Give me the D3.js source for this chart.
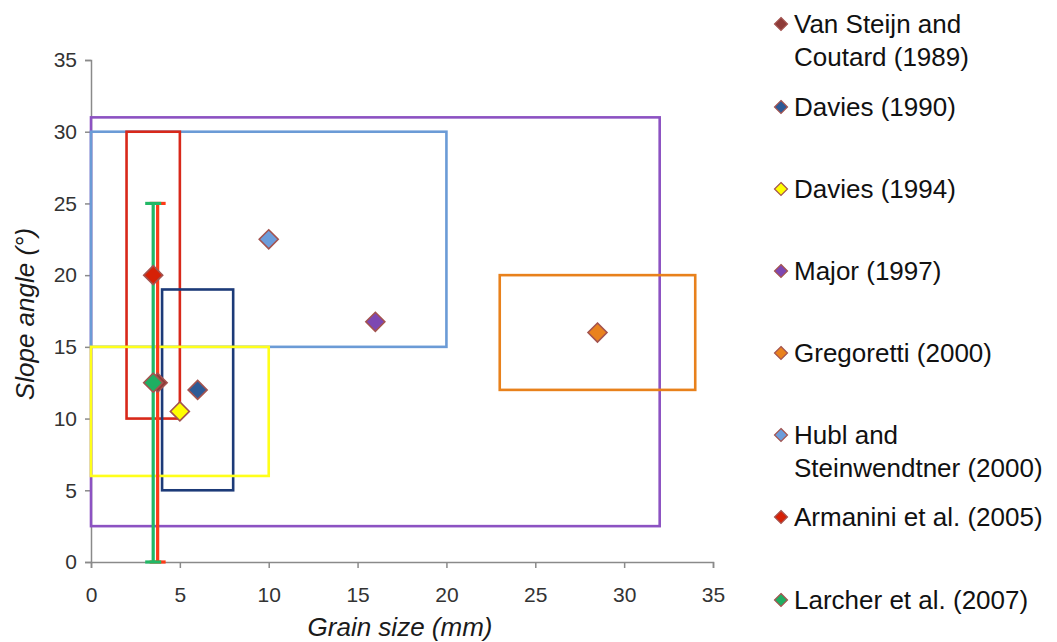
<!DOCTYPE html>
<html>
<head>
<meta charset="utf-8">
<script src="https://cdn.jsdelivr.net/npm/d3@7"></script>
<style>
  html, body { margin: 0; padding: 0; background: #fff; }
  svg { display: block; font-family: "Liberation Sans", Arial, sans-serif; }
</style>
</head>
<body>
<svg id="chart" width="1057" height="642"></svg>
<script>
// Studies of debris-flow slope angle vs. grain size
const studies = [
  "Van Steijn and Coutard (1989)",
  "Davies (1990)",
  "Davies (1994)",
  "Major (1997)",
  "Gregoretti (2000)",
  "Hubl and Steinwendtner (2000)",
  "Armanini et al. (2005)",
  "Larcher et al. (2007)"
];
const legendLines = [
  ["Van Steijn and", "Coutard (1989)"],
  ["Davies (1990)"],
  ["Davies (1994)"],
  ["Major (1997)"],
  ["Gregoretti (2000)"],
  ["Hubl and", "Steinwendtner (2000)"],
  ["Armanini et al. (2005)"],
  ["Larcher et al. (2007)"]
];
// Representative value of each study (mm, degrees)
const grainSize  = [3.75, 6, 5, 16, 28.5, 10, 3.5, 3.5];
const slopeAngle = [12.5, 12, 10.5, 16.75, 16, 22.5, 20, 12.5];

// Ranges shown as boxes (index into studies, grain range, slope range)
const boxStudy    = [3, 5, 4, 6, 1, 2];
const boxGrainMin = [0, 0, 23, 2, 4, 0];
const boxGrainMax = [32, 20, 34, 5, 8, 10];
const boxSlopeMin = [2.5, 15, 12, 10, 5, 6];
const boxSlopeMax = [31, 30, 20, 30, 19, 15];

// Ranges shown as vertical error bars
const barStudy    = [0, 7];
const barSlopeMin = [0, 0];
const barSlopeMax = [25, 25];

const xTicks = [0, 5, 10, 15, 20, 25, 30, 35];
const yTicks = [0, 5, 10, 15, 20, 25, 30, 35];

const markerFill = ["#8E3B38", "#2D5A96", "#FFFF00", "#7D47B2", "#E9821E", "#6C9DDB", "#D62106", "#1FAE62"];
const lineColor  = ["#FF3A17", "#1C3A78", "#FFFF1A", "#8C52C2", "#E8811C", "#6B9BD6", "#D8281A", "#22B866"];
const markerStroke = "#A3534F";

const svg = d3.select("#chart");
const x = d3.scaleLinear().domain([0, 35]).range([91, 713]);
const y = d3.scaleLinear().domain([0, 35]).range([562, 60]);

// Axes
const axisColor = "#8A8A8A";
const gx = svg.append("g").attr("transform", `translate(0,${y(0)})`)
  .call(d3.axisBottom(x).tickValues(xTicks).tickSize(6).tickPadding(19));
const gy = svg.append("g").attr("transform", `translate(${x(0)},0)`)
  .call(d3.axisLeft(y).tickValues(yTicks).tickSize(6).tickPadding(8));
[gx, gy].forEach(g => {
  g.select(".domain").attr("stroke", axisColor).attr("stroke-width", 1.5);
  g.selectAll(".tick line").attr("stroke", axisColor).attr("stroke-width", 1.5);
  g.selectAll(".tick text").attr("fill", "#333").attr("font-size", 21)
    .attr("font-family", "Liberation Sans, Arial, sans-serif");
});

// Axis titles
svg.append("text").attr("x", 400).attr("y", 636).attr("text-anchor", "middle")
  .attr("font-size", 26).attr("font-style", "italic").attr("fill", "#1a1a1a")
  .text("Grain size (mm)");
svg.append("text").attr("transform", "translate(34,314) rotate(-90)").attr("text-anchor", "middle")
  .attr("font-size", 26).attr("font-style", "italic").attr("fill", "#1a1a1a")
  .text("Slope angle (°)");

// Range boxes
svg.append("g").selectAll("rect").data(boxStudy).join("rect")
  .attr("x", (s, i) => x(boxGrainMin[i]))
  .attr("y", (s, i) => y(boxSlopeMax[i]))
  .attr("width", (s, i) => x(boxGrainMax[i]) - x(boxGrainMin[i]))
  .attr("height", (s, i) => y(boxSlopeMin[i]) - y(boxSlopeMax[i]))
  .attr("fill", "none")
  .attr("stroke", s => lineColor[s])
  .attr("stroke-width", 2.6);

// Error bars
const capHalf = 8;
const bars = svg.append("g").selectAll("g").data(barStudy).join("g")
  .attr("stroke", s => lineColor[s]).attr("stroke-width", 3.2);
bars.append("line")
  .attr("x1", s => x(grainSize[s])).attr("x2", s => x(grainSize[s]))
  .attr("y1", (s, i) => y(barSlopeMin[i])).attr("y2", (s, i) => y(barSlopeMax[i]));
bars.append("line")
  .attr("x1", s => x(grainSize[s]) - capHalf).attr("x2", s => x(grainSize[s]) + capHalf)
  .attr("y1", (s, i) => y(barSlopeMax[i])).attr("y2", (s, i) => y(barSlopeMax[i]));
bars.append("line")
  .attr("x1", s => x(grainSize[s]) - capHalf).attr("x2", s => x(grainSize[s]) + capHalf)
  .attr("y1", (s, i) => y(barSlopeMin[i])).attr("y2", (s, i) => y(barSlopeMin[i]));

// Study markers
const diamond = r => `M0,${-r}L${r},0L0,${r}L${-r},0Z`;
svg.append("g").selectAll("path").data(studies).join("path")
  .attr("transform", (d, i) => `translate(${x(grainSize[i])},${y(slopeAngle[i])})`)
  .attr("d", diamond(9.5))
  .attr("fill", (d, i) => markerFill[i])
  .attr("stroke", markerStroke).attr("stroke-width", 1.6);

// Legend
const legendTop = [24, 107, 189, 271, 353, 435, 517, 600];
const lg = svg.append("g").selectAll("g").data(legendLines).join("g")
  .attr("transform", (d, i) => `translate(781,${legendTop[i]})`);
lg.append("path").attr("d", diamond(6.5))
  .attr("fill", (d, i) => markerFill[i])
  .attr("stroke", markerStroke).attr("stroke-width", 1.2);
lg.each(function(lines) {
  const g = d3.select(this);
  lines.forEach((t, k) => {
    g.append("text").attr("x", 13).attr("y", k * 33).attr("dy", "0.36em")
      .attr("font-size", 26).attr("fill", "#111").text(t);
  });
});
</script>
</body>
</html>
